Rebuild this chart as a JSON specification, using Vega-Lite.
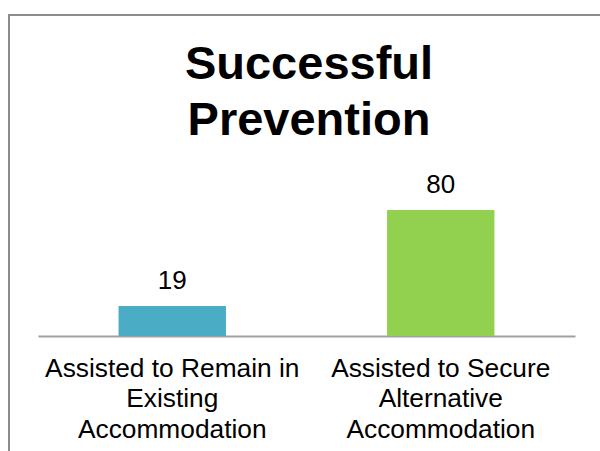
{
  "$schema": "https://vega.github.io/schema/vega-lite/v6.json",
  "autosize": "none",
  "padding": {"left": 9, "top": 15, "right": 0, "bottom": 0},
  "width": 600,
  "height": 500,
  "background": "white",
  "title": {
    "text": ["Successful", "Prevention"],
    "font": "Liberation Sans",
    "fontSize": 47,
    "fontWeight": "bold",
    "color": "black",
    "lineHeight": 56,
    "anchor": "middle",
    "frame": "group",
    "baseline": "alphabetic",
    "offset": -62,
    "dy": 105
  },
  "data": {
    "values": [
      {"category": "Assisted to Remain in|Existing|Accommodation", "value": 19},
      {"category": "Assisted to Secure|Alternative|Accommodation", "value": 80}
    ]
  },
  "encoding": {
    "x": {
      "field": "category",
      "type": "nominal",
      "sort": null,
      "scale": {"range": [29, 566], "paddingInner": 0.6, "paddingOuter": 0.3},
      "axis": {
        "title": null,
        "orient": "bottom",
        "offset": -179,
        "ticks": false,
        "grid": false,
        "domainColor": "#a0a0a0",
        "domainWidth": 2,
        "labelExpr": "split(datum.label, '|')",
        "labelFont": "Liberation Sans",
        "labelFontSize": 26.3,
        "labelColor": "black",
        "labelLineHeight": 30.5,
        "labelPadding": 19,
        "labelAngle": 0,
        "labelBaseline": "top",
        "labelLimit": 0
      }
    },
    "y": {
      "field": "value",
      "type": "quantitative",
      "scale": {"domain": [0, 203.8], "range": [321, 0]},
      "axis": null
    }
  },
  "layer": [
    {
      "mark": {"type": "bar"},
      "encoding": {
        "color": {
          "field": "category",
          "type": "nominal",
          "scale": {"range": ["#4BACC6", "#92D050"]},
          "legend": null
        }
      }
    },
    {
      "mark": {"type": "text", "baseline": "alphabetic", "dy": -17, "font": "Liberation Sans", "fontSize": 26, "color": "black"},
      "encoding": {"text": {"field": "value", "type": "quantitative"}}
    }
  ],
  "config": {
    "view": {"stroke": "#8c8c8c", "strokeWidth": 2}
  }
}
